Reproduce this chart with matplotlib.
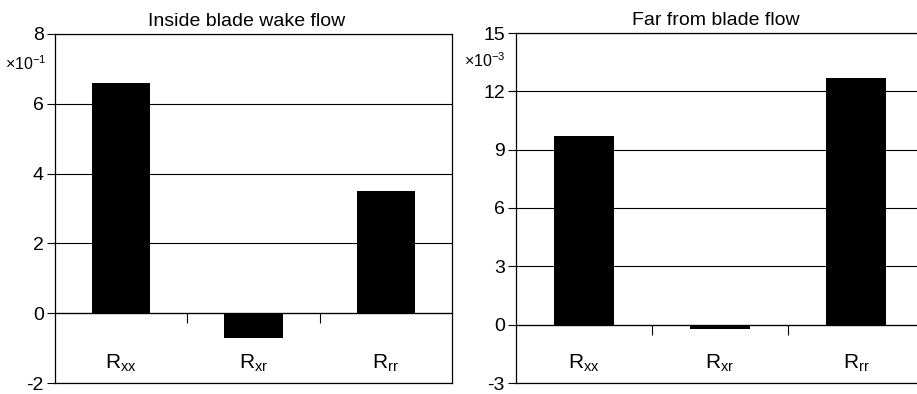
import matplotlib
matplotlib.use("Agg")
import matplotlib.pyplot as plt

plt.rcParams["font.family"] = ["Liberation Sans", "DejaVu Sans"]
plt.rcParams["mathtext.fontset"] = "custom"
plt.rcParams["mathtext.rm"] = "Liberation Sans"

components = [r"R$_{\mathregular{xx}}$", r"R$_{\mathregular{xr}}$", r"R$_{\mathregular{rr}}$"]

# Reynolds stress components, in units of the scale shown beside each y axis
wake_values = [6.6, -0.7, 3.5]      # x 10^-1
far_values = [9.7, -0.2, 12.7]      # x 10^-3

wake_ticks = [-2, 0, 2, 4, 6, 8]
far_ticks = [-3, 0, 3, 6, 9, 12, 15]

W, H = 917, 394
fig = plt.figure(figsize=(W / 100, H / 100), dpi=100)


def stress_panel(rect, values, ticks, title, title_x, scale_text, scale_xy):
    ax = fig.add_axes(rect)
    x = range(len(values))
    ax.bar(x, values, width=0.44, color="black", zorder=3)
    ax.set_xlim(-0.5, len(values) - 0.5)
    ax.set_ylim(ticks[0], ticks[-1])
    ax.set_yticks(ticks)
    ax.set_yticklabels([str(t) for t in ticks], fontsize=14)
    ax.tick_params(axis="y", direction="out", length=6, width=0.8, pad=2)
    ax.set_xticks([])
    ax.grid(axis="y", color="black", lw=0.8, zorder=1)
    for s in ax.spines.values():
        s.set_linewidth(0.9)

    # zero line with category-boundary ticks
    frac0 = (0 - ticks[0]) / (ticks[-1] - ticks[0])
    zax = ax.secondary_xaxis(frac0)
    zax.set_xticks([0.5, 1.5])
    zax.set_xticklabels(["", ""])
    zax.tick_params(direction="out", length=7, width=0.8)
    zax.spines["bottom"].set_linewidth(0.9)

    for i, lab in enumerate(components):
        ax.text(i, 0.057, lab, transform=ax.get_xaxis_transform(),
                ha="center", va="center", fontsize=15)

    ax.set_title(title, fontsize=14, pad=6, x=title_x)
    fig.text(scale_xy[0] / W, 1 - scale_xy[1] / H, scale_text,
             ha="left", va="center", fontsize=11.5)
    return ax


stress_panel([55 / W, 11 / H, 397 / W, 349 / H], wake_values, wake_ticks,
             "Inside blade wake flow", 0.482,
             r"$\mathregular{\times10^{-1}}$", (5, 64))
stress_panel([516 / W, 11 / H, 408 / W, 350 / H], far_values, far_ticks,
             "Far from blade flow", 0.49,
             r"$\mathregular{\times10^{-3}}$", (464, 61))

fig.savefig("out.png", dpi=100)
